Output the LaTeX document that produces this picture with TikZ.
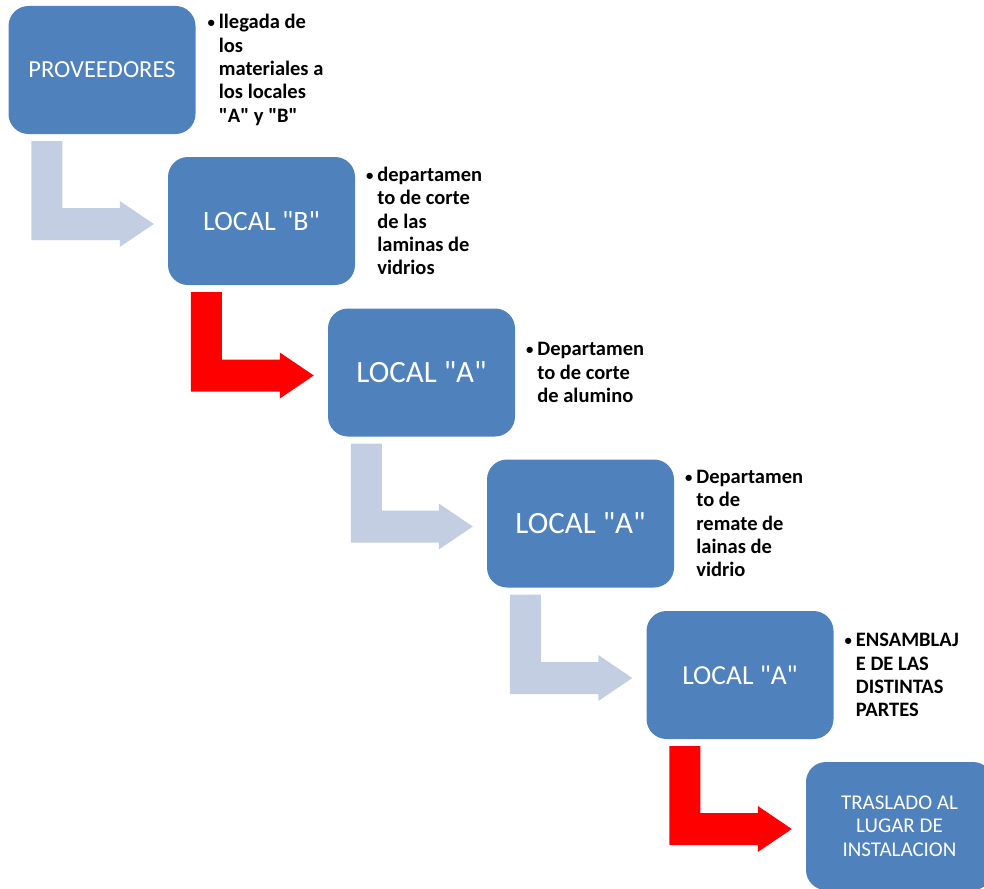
\documentclass[tikz,border=0pt]{standalone}
\usepackage{fontspec}
\setmainfont{Carlito}
\usetikzlibrary{calc}
\definecolor{boxblue}{RGB}{79,129,189}
\definecolor{paleblue}{RGB}{196,206,227}
\definecolor{flowred}{RGB}{255,0,0}
\newcommand{\bentarrow}[3]{%
  \fill[#3] ($(#1.south west)+(23,7)$) -- ++(31,0) |- ($(#2.west)+(-48,-13)$)
    -- ++(0,-7) -- ($(#2.west)+(-14,3)$) -- ++(-34,23) -- ++(0,-7)
    -| ($(#1.south west)+(23,7)$) -- cycle;}
\newcommand{\bul}{\llap{\raisebox{1.2pt}{\scalebox{0.72}{\textbullet}}\hspace{4pt}}}
\newcommand{\q}{\textquotedbl}

\begin{document}
\begin{tikzpicture}[x=1pt, y=-1pt,
  stage/.style={fill=boxblue, rounded corners=20pt, minimum width=187pt,
    minimum height=128pt, text=white, align=center, inner sep=0pt},
  desc/.style={anchor=west, align=left, inner sep=0pt,
    font=\bfseries\fontsize{20.5}{23.3}\selectfont}]
  \useasboundingbox (0,0) rectangle (984,888);

  % Stages
  \node[stage, font=\fontsize{24.5}{28}\selectfont] (prov) at (102,70) {PROVEEDORES};
  \node[stage, font=\fontsize{28}{34}\selectfont] (locb) at (261.5,221) {LOCAL \q B\q};
  \node[stage, font=\fontsize{31}{37}\selectfont] (loca) at (421.5,372.5) {LOCAL \q A\q};
  \node[stage, font=\fontsize{31}{37}\selectfont] (remate) at (580.5,523.5) {LOCAL \q A\q};
  \node[stage, font=\fontsize{27.5}{33}\selectfont] (ensam) at (740,675) {LOCAL \q A\q};
  \node[stage, font=\fontsize{21}{23.5}\selectfont] (tras) at (899.5,826)
    {TRASLADO AL\\LUGAR DE\\INSTALACION};

  % Descriptions
  \node[desc] (dprov) at ([xshift=23pt]prov.east)
    {\bul llegada de\\los\\materiales a\\los locales\\\q A\q{} y \q B\q};
  \node[desc] (dlocb) at ([xshift=22pt]locb.east)
    {\bul departamen\\to de corte\\de las\\laminas de\\vidrios};
  \node[desc] (dloca) at ([xshift=22pt]loca.east)
    {\bul Departamen\\to de corte\\de alumino};
  \node[desc] (dremate) at ([xshift=22pt]remate.east)
    {\bul Departamen\\to de\\remate de\\lainas de\\vidrio};
  \node[desc] (densam) at ([xshift=22pt]ensam.east)
    {\bul ENSAMBLAJ\\E DE LAS\\DISTINTAS\\PARTES};

  % Bent arrows
  \bentarrow{prov}{locb}{paleblue}
  \bentarrow{locb}{loca}{flowred}
  \bentarrow{loca}{remate}{paleblue}
  \bentarrow{remate}{ensam}{paleblue}
  \bentarrow{ensam}{tras}{flowred}
\end{tikzpicture}
\end{document}
